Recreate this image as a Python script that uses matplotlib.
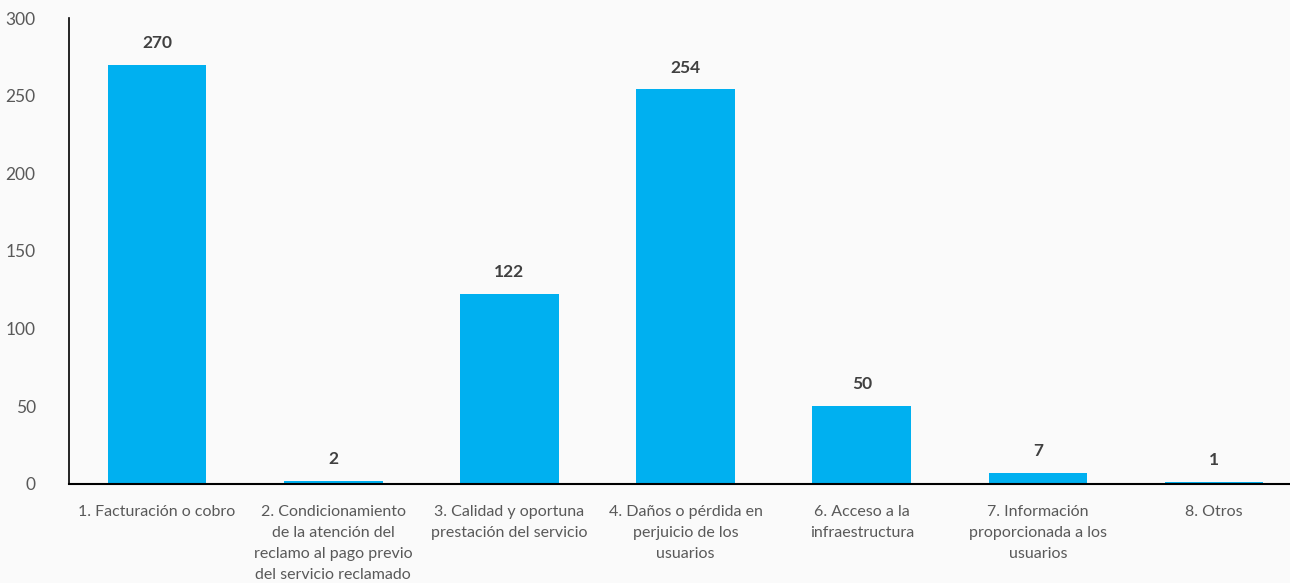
import matplotlib.pyplot as plt

categorias = [
    "1. Facturación o cobro",
    "2. Condicionamiento\nde la atención del\nreclamo al pago previo\ndel servicio reclamado",
    "3. Calidad y oportuna\nprestación del servicio",
    "4. Daños o pérdida en\nperjuicio de los\nusuarios",
    "6. Acceso a la\ninfraestructura",
    "7. Información\nproporcionada a los\nusuarios",
    "8. Otros",
]
valores = [270, 2, 122, 254, 50, 7, 1]
yticks = [0, 50, 100, 150, 200, 250, 300]

plt.rcParams['font.family'] = ['Lato', 'DejaVu Sans']

fig = plt.figure(figsize=(12.9, 5.83), dpi=100, facecolor='#fafafa')
ax = fig.add_axes([0.0535, 0.170, 0.956, 0.799])
ax.set_facecolor('#fafafa')

x = range(len(valores))
bars = ax.bar(x, valores, width=0.56, color='#00b0f0')

for b, v in zip(bars, valores):
    ax.text(b.get_x() + b.get_width() / 2, v + 9, str(v), ha='center', va='bottom',
            fontsize=12.5, fontweight='bold', color='#404040')

ax.set_xlim(-0.5, len(valores) - 0.5)
ax.set_ylim(0, 300)
ax.set_yticks(yticks)
ax.set_yticklabels([str(t) for t in yticks], fontsize=12.5, color='#595959')
ax.set_xticks(list(x))
ax.set_xticklabels(categorias, fontsize=11.5, color='#595959', linespacing=1.65, va='top')
ax.tick_params(axis='both', length=0)
ax.tick_params(axis='y', pad=24)
ax.tick_params(axis='x', pad=15)

for s in ['top', 'right']:
    ax.spines[s].set_visible(False)
ax.spines['left'].set_color('black')
ax.spines['bottom'].set_color('black')
ax.spines['left'].set_linewidth(1.2)
ax.spines['bottom'].set_linewidth(1.5)

fig.savefig('out.png', dpi=100, facecolor=fig.get_facecolor())
